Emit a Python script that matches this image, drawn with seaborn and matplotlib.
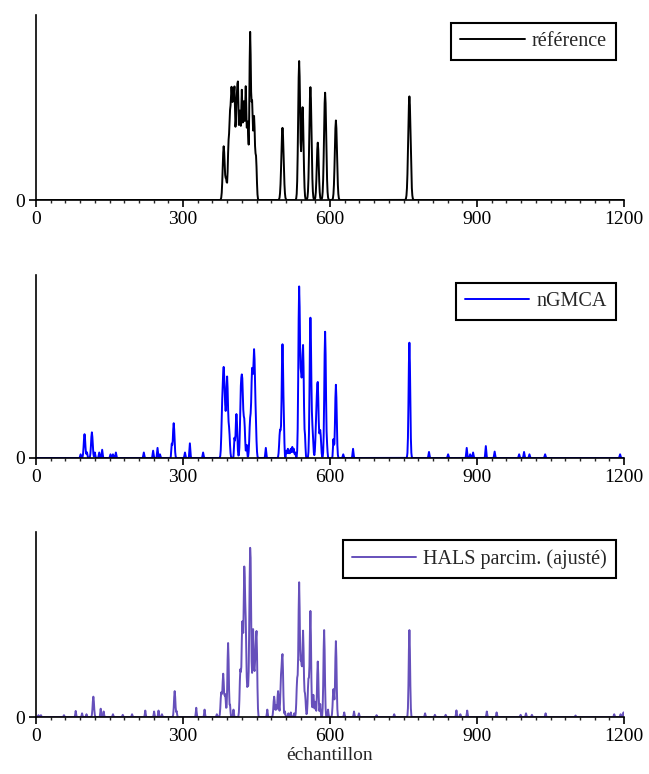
import numpy as np
import pandas as pd
import seaborn as sns
import matplotlib.pyplot as plt
from matplotlib.ticker import MultipleLocator

# sample axis
samples = np.arange(0, 1201)

# référence : peak centres, heights, widths
ref_pos = [383, 388, 393, 396, 399, 402, 405, 409, 412, 416, 420, 424, 428, 432, 437, 441, 445, 449,
           503, 537, 544, 560, 575, 590, 612, 762]
ref_amp = [0.29, 0.10, 0.30, 0.36, 0.56, 0.38, 0.58, 0.43, 0.59, 0.45, 0.58, 0.50, 0.60, 0.40, 0.90, 0.48, 0.44, 0.22,
           0.39, 0.75, 0.50, 0.61, 0.31, 0.58, 0.43, 0.56]
ref_wid = [2.0, 1.5, 1.6, 1.3, 1.5, 1.3, 1.5, 1.4, 1.5, 1.4, 1.5, 1.4, 1.5, 1.4, 1.6, 1.4, 1.6, 1.5,
           2.3, 2.0, 2.0, 2.2, 2.0, 2.2, 2.2, 2.4]

# nGMCA
ngmca_pos = [91, 99, 104, 114, 120, 129, 135, 152, 157, 163, 220, 239, 248, 253, 277, 281, 304, 314, 341,
             380, 383, 386, 390, 394, 405, 409, 418, 421, 425, 430, 437, 441, 445, 448, 469,
             498, 503, 506, 511, 514, 517, 520, 523, 526, 529, 537, 541, 545, 549, 560, 564,
             572, 575, 580, 590, 594, 607, 612, 627, 647, 762,
             802, 841, 879, 886, 892, 918, 936, 986, 996, 1007, 1039, 1192]
ngmca_amp = [0.02, 0.13, 0.03, 0.14, 0.03, 0.03, 0.045, 0.02, 0.02, 0.03, 0.03, 0.04, 0.055, 0.02, 0.07, 0.19, 0.03, 0.08, 0.03,
             0.25, 0.42, 0.20, 0.43, 0.15, 0.10, 0.24, 0.33, 0.37, 0.20, 0.07, 0.20, 0.46, 0.54, 0.20, 0.055,
             0.15, 0.62, 0.10, 0.04, 0.05, 0.04, 0.05, 0.06, 0.05, 0.03, 0.92, 0.40, 0.60, 0.10, 0.76, 0.15,
             0.20, 0.38, 0.15, 0.69, 0.05, 0.10, 0.40, 0.02, 0.05, 0.63,
             0.033, 0.02, 0.055, 0.02, 0.03, 0.065, 0.035, 0.02, 0.033, 0.02, 0.02, 0.02]

# HALS parcim. (ajusté)
hals_pos = [5, 10, 57, 81, 94, 103, 117, 132, 138, 157, 177, 196, 223, 241, 250, 257, 283, 287, 327, 344, 369,
            378, 382, 386, 392, 396, 403, 417, 421, 425, 428, 432, 436, 438, 443, 447, 450,
            472, 486, 490, 494, 500, 503, 508, 515, 520, 527, 533, 537, 541, 545, 549, 556, 560,
            566, 570, 575, 580, 588, 596, 607, 612, 629, 649, 659, 695, 731, 762,
            794, 814, 836, 858, 866, 880, 920, 940, 989, 1000, 1012, 1040, 1101, 1180, 1193, 1199]
hals_amp = [0.01, 0.01, 0.01, 0.033, 0.02, 0.015, 0.11, 0.045, 0.03, 0.015, 0.012, 0.015, 0.035, 0.03, 0.035, 0.015, 0.14, 0.03, 0.05, 0.04, 0.015,
            0.13, 0.23, 0.12, 0.40, 0.06, 0.04, 0.25, 0.50, 0.76, 0.45, 0.15, 0.50, 0.68, 0.47, 0.25, 0.44,
            0.04, 0.11, 0.06, 0.14, 0.20, 0.32, 0.03, 0.02, 0.025, 0.02, 0.20, 0.72, 0.30, 0.46, 0.12, 0.20, 0.57,
            0.12, 0.08, 0.30, 0.07, 0.47, 0.04, 0.15, 0.41, 0.025, 0.03, 0.02, 0.01, 0.015, 0.47,
            0.02, 0.012, 0.012, 0.036, 0.015, 0.035, 0.03, 0.025, 0.012, 0.02, 0.012, 0.02, 0.008, 0.015, 0.015, 0.025]

labels = ["référence", "nGMCA", "HALS parcim. (ajusté)"]
colors = ["black", "#0000ff", "#6650bb"]


def build(pos, amp, wid):
    y = np.zeros(len(samples))
    for p, a, w in zip(pos, amp, wid):
        y += a * np.exp(-0.5 * ((samples - p) / w) ** 2)
    return y


ngmca_wid = [1.6 if a > 0.1 else 0.9 for a in ngmca_amp]
hals_wid = [1.4 if a > 0.1 else 0.8 for a in hals_amp]

signals = [build(ref_pos, ref_amp, ref_wid),
           build(ngmca_pos, ngmca_amp, ngmca_wid),
           build(hals_pos, hals_amp, hals_wid)]

sns.set_theme(style="ticks")
plt.rcParams['font.family'] = ['Liberation Serif', 'DejaVu Serif']

fig = plt.figure(figsize=(6.49, 7.74), dpi=100)
boxes = [[0.0555, 0.7416, 0.906, 0.239],
         [0.0555, 0.4083, 0.906, 0.2364],
         [0.0555, 0.0736, 0.906, 0.239]]

for i, (sig, lab, col) in enumerate(zip(signals, labels, colors)):
    ax = fig.add_axes(boxes[i])
    df = pd.DataFrame({"x": samples, "y": sig})
    sns.lineplot(data=df, x="x", y="y", ax=ax, color=col, lw=1.4, label=lab)
    ax.set_xlim(0, 1200)
    ax.set_ylim(0, 1)
    ax.set_yticks([0])
    ax.set_yticklabels(["0"])
    ax.xaxis.set_major_locator(MultipleLocator(300))
    ax.xaxis.set_minor_locator(MultipleLocator(30))
    ax.tick_params(axis="both", which="major", length=5, width=1.2, labelsize=14, pad=3, colors="black")
    ax.tick_params(axis="x", which="minor", length=2.5, width=1.0)
    for s in ["top", "right"]:
        ax.spines[s].set_visible(False)
    for s in ["left", "bottom"]:
        ax.spines[s].set_linewidth(1.2)
        ax.spines[s].set_color("black")
    ax.set_ylabel("")
    ax.set_xlabel("échantillon" if i == 2 else "", fontsize=14, labelpad=1)
    leg = ax.legend(loc="upper right", fontsize=14.5, handlelength=3.2, frameon=True,
                    fancybox=False, borderaxespad=0.4, borderpad=0.45, handletextpad=0.35)
    leg.get_frame().set_edgecolor("black")
    leg.get_frame().set_linewidth(1.5)
    leg.get_frame().set_alpha(1)

fig.savefig("out.png", dpi=100)
